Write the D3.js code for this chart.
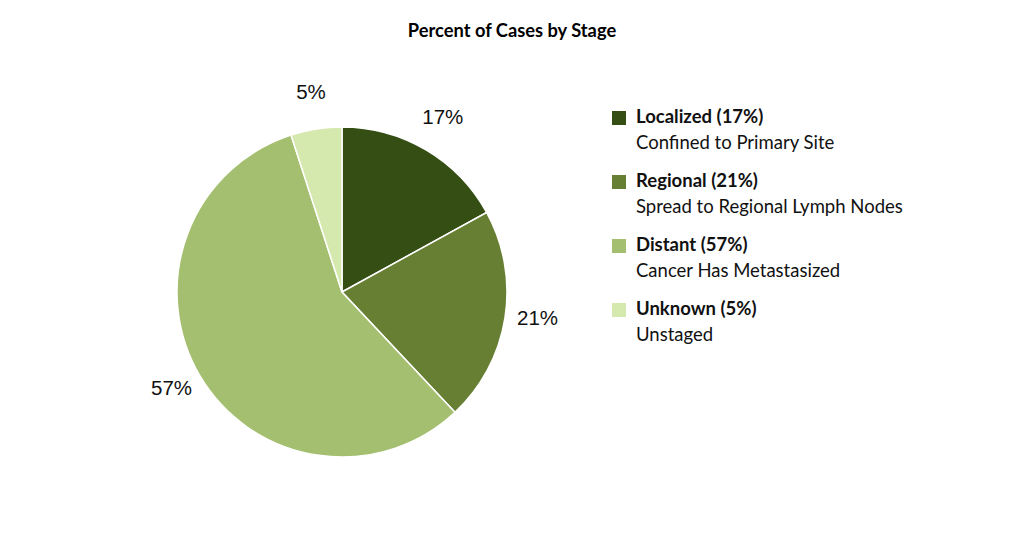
<!DOCTYPE html>
<html>
<head>
<meta charset="utf-8">
<script src="https://cdn.jsdelivr.net/npm/d3@7"></script>
<style>
  body { margin: 0; background: #fff; }
  svg text { font-family: Lato, "Open Sans", sans-serif; }
</style>
</head>
<body>
<svg id="chart" width="1024" height="543"></svg>
<script>
// chart data
const stages = ["Localized", "Regional", "Distant", "Unknown"];
const percents = [17, 21, 57, 5];
const subtitles = ["Confined to Primary Site", "Spread to Regional Lymph Nodes", "Cancer Has Metastasized", "Unstaged"];
const colors = ["#344e13", "#677f33", "#a4bf6f", "#d5e8ad"];

const svg = d3.select("#chart");
const width = 1024;
const cx = 342, cy = 292, radius = 165;

svg.append("text")
    .attr("x", width / 2)
    .attr("y", 37)
    .attr("text-anchor", "middle")
    .attr("font-size", 18.3)
    .attr("font-weight", "bold")
    .attr("fill", "#000")
    .text("Percent of Cases by Stage");

const data = stages.map(function(d, i) { return { stage: d, value: percents[i], i: i }; });

const pie = d3.pie().sort(null).value(function(d) { return d.value; });
const arc = d3.arc().innerRadius(0).outerRadius(radius);
const labelArc = d3.arc().innerRadius(198).outerRadius(198);

const g = svg.append("g").attr("transform", "translate(" + cx + "," + cy + ")");
const arcs = pie(data);

g.selectAll("path").data(arcs)
    .enter()
    .append("path")
    .attr("d", arc)
    .attr("fill", function(d) { return colors[d.data.i]; })
    .attr("stroke", "#fff")
    .attr("stroke-width", 1.5);

// percent labels outside the slices
g.selectAll("text.pct").data(arcs)
    .enter()
    .append("text")
    .attr("class", "pct")
    .attr("transform", function(d) { return "translate(" + labelArc.centroid(d) + ")"; })
    .attr("text-anchor", "middle")
    .attr("dy", "0.1em")
    .attr("font-size", 20.5)
    .style("font-family", "'Liberation Sans', Arial, sans-serif")
    .attr("fill", "#111")
    .text(function(d) { return d.data.value + "%"; });

// legend
const legend = svg.append("g").attr("transform", "translate(612,111)");
const item = legend.selectAll("g").data(data)
    .enter()
    .append("g")
    .attr("transform", function(d, i) { return "translate(0," + (i * 64) + ")"; });

item.append("rect")
    .attr("width", 14)
    .attr("height", 14)
    .attr("fill", function(d) { return colors[d.i]; });

item.append("text")
    .attr("x", 24)
    .attr("y", 12)
    .attr("font-size", 18.5)
    .attr("font-weight", "bold")
    .attr("fill", "#111")
    .text(function(d) { return d.stage + " (" + d.value + "%)"; });

item.append("text")
    .attr("x", 24)
    .attr("y", 38)
    .attr("font-size", 18.5)
    .attr("fill", "#111")
    .text(function(d) { return subtitles[d.i]; });
</script>
</body>
</html>
